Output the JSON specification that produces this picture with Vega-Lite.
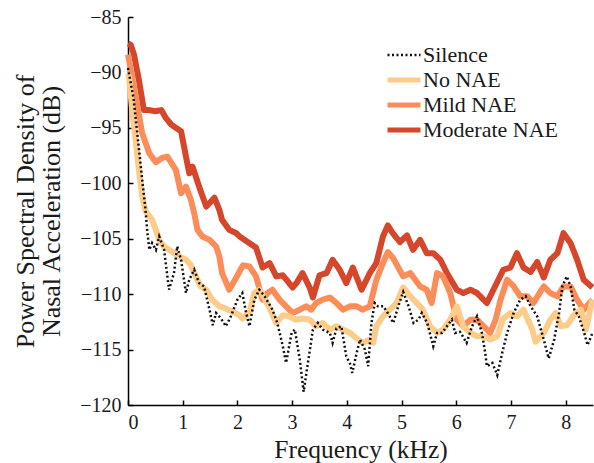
{
  "$schema": "https://vega.github.io/schema/vega-lite/v6.json",
  "width": 465,
  "height": 388,
  "autosize": {"type": "none"},
  "padding": {"left": 128, "top": 17, "right": 1, "bottom": 58},
  "background": "white",
  "config": {
    "font": "Liberation Serif",
    "style": {"guide-label": {"font": "Liberation Serif"}, "guide-title": {"font": "Liberation Serif"}},
    "view": {"stroke": null},
    "axis": {
      "domainColor": "#000000", "domainWidth": 1.5,
      "tickColor": "#000000", "tickWidth": 1.5, "tickSize": -5,
      "labelFont": "Liberation Serif", "labelFontSize": 20, "labelColor": "#1a1a1a",
      "titleFont": "Liberation Serif", "titleFontWeight": "normal", "titleColor": "#1a1a1a",
      "grid": false
    },
    "legend": {
      "orient": "none", "legendX": 265, "legendY": 27,
      "symbolType": "stroke", "symbolSize": 1089, "symbolStrokeWidth": 5,
      "labelFont": "Liberation Serif", "labelFontSize": 22, "labelColor": "#1a1a1a",
      "labelOffset": 8, "rowPadding": 3
    }
  },
  "data": {"values": [
    {"s":"Moderate NAE","f":0,"v":-87.4},{"s":"Moderate NAE","f":0.05,"v":-87.5},{"s":"Moderate NAE","f":0.11,"v":-88.4},{"s":"Moderate NAE","f":0.2,"v":-90.7},{"s":"Moderate NAE","f":0.29,"v":-93.4},{"s":"Moderate NAE","f":0.39,"v":-93.4},{"s":"Moderate NAE","f":0.5,"v":-93.5},{"s":"Moderate NAE","f":0.61,"v":-93.4},{"s":"Moderate NAE","f":0.69,"v":-94.1},{"s":"Moderate NAE","f":0.79,"v":-94.7},{"s":"Moderate NAE","f":0.875,"v":-95.0},{"s":"Moderate NAE","f":0.97,"v":-95.3},{"s":"Moderate NAE","f":1.06,"v":-97.6},{"s":"Moderate NAE","f":1.12,"v":-99.1},{"s":"Moderate NAE","f":1.18,"v":-98.5},{"s":"Moderate NAE","f":1.3,"v":-100.3},{"s":"Moderate NAE","f":1.43,"v":-102.1},{"s":"Moderate NAE","f":1.58,"v":-101.3},{"s":"Moderate NAE","f":1.67,"v":-102.4},{"s":"Moderate NAE","f":1.72,"v":-103.3},{"s":"Moderate NAE","f":1.85,"v":-104.2},{"s":"Moderate NAE","f":1.98,"v":-104.5},{"s":"Moderate NAE","f":2.04,"v":-104.8},{"s":"Moderate NAE","f":2.22,"v":-105.4},{"s":"Moderate NAE","f":2.34,"v":-105.8},{"s":"Moderate NAE","f":2.46,"v":-107.6},{"s":"Moderate NAE","f":2.59,"v":-107.2},{"s":"Moderate NAE","f":2.71,"v":-108.4},{"s":"Moderate NAE","f":2.83,"v":-108.3},{"s":"Moderate NAE","f":3.01,"v":-109.4},{"s":"Moderate NAE","f":3.08,"v":-109.0},{"s":"Moderate NAE","f":3.19,"v":-108.1},{"s":"Moderate NAE","f":3.32,"v":-109.4},{"s":"Moderate NAE","f":3.38,"v":-110.3},{"s":"Moderate NAE","f":3.5,"v":-108.3},{"s":"Moderate NAE","f":3.63,"v":-108.1},{"s":"Moderate NAE","f":3.74,"v":-106.9},{"s":"Moderate NAE","f":3.87,"v":-107.8},{"s":"Moderate NAE","f":3.99,"v":-109.0},{"s":"Moderate NAE","f":4.11,"v":-107.6},{"s":"Moderate NAE","f":4.27,"v":-109.6},{"s":"Moderate NAE","f":4.42,"v":-108.1},{"s":"Moderate NAE","f":4.54,"v":-107.2},{"s":"Moderate NAE","f":4.66,"v":-104.8},{"s":"Moderate NAE","f":4.75,"v":-103.8},{"s":"Moderate NAE","f":4.84,"v":-104.5},{"s":"Moderate NAE","f":4.97,"v":-105.3},{"s":"Moderate NAE","f":5.1,"v":-104.7},{"s":"Moderate NAE","f":5.21,"v":-106.0},{"s":"Moderate NAE","f":5.34,"v":-105.1},{"s":"Moderate NAE","f":5.46,"v":-106.3},{"s":"Moderate NAE","f":5.58,"v":-106.3},{"s":"Moderate NAE","f":5.71,"v":-106.9},{"s":"Moderate NAE","f":5.83,"v":-108.1},{"s":"Moderate NAE","f":6.01,"v":-109.6},{"s":"Moderate NAE","f":6.13,"v":-109.9},{"s":"Moderate NAE","f":6.26,"v":-109.6},{"s":"Moderate NAE","f":6.38,"v":-109.9},{"s":"Moderate NAE","f":6.56,"v":-110.8},{"s":"Moderate NAE","f":6.68,"v":-109.6},{"s":"Moderate NAE","f":6.86,"v":-107.8},{"s":"Moderate NAE","f":6.99,"v":-107.6},{"s":"Moderate NAE","f":7.11,"v":-106.3},{"s":"Moderate NAE","f":7.23,"v":-107.6},{"s":"Moderate NAE","f":7.36,"v":-108.0},{"s":"Moderate NAE","f":7.48,"v":-107.1},{"s":"Moderate NAE","f":7.6,"v":-108.5},{"s":"Moderate NAE","f":7.72,"v":-106.9},{"s":"Moderate NAE","f":7.85,"v":-106.3},{"s":"Moderate NAE","f":7.96,"v":-104.5},{"s":"Moderate NAE","f":8.09,"v":-105.4},{"s":"Moderate NAE","f":8.21,"v":-106.9},{"s":"Moderate NAE","f":8.33,"v":-108.7},{"s":"Moderate NAE","f":8.49,"v":-109.4},

    {"s":"Mild NAE","f":0,"v":-88.4},{"s":"Mild NAE","f":0.02,"v":-88.9},{"s":"Mild NAE","f":0.14,"v":-92.2},{"s":"Mild NAE","f":0.26,"v":-95.5},{"s":"Mild NAE","f":0.39,"v":-97.3},{"s":"Mild NAE","f":0.51,"v":-98.1},{"s":"Mild NAE","f":0.63,"v":-97.7},{"s":"Mild NAE","f":0.72,"v":-97.6},{"s":"Mild NAE","f":0.875,"v":-98.8},{"s":"Mild NAE","f":0.97,"v":-100.9},{"s":"Mild NAE","f":1.06,"v":-100.3},{"s":"Mild NAE","f":1.15,"v":-101.5},{"s":"Mild NAE","f":1.21,"v":-102.7},{"s":"Mild NAE","f":1.27,"v":-104.2},{"s":"Mild NAE","f":1.36,"v":-104.8},{"s":"Mild NAE","f":1.49,"v":-105.1},{"s":"Mild NAE","f":1.61,"v":-105.7},{"s":"Mild NAE","f":1.67,"v":-106.6},{"s":"Mild NAE","f":1.72,"v":-108.1},{"s":"Mild NAE","f":1.85,"v":-109.6},{"s":"Mild NAE","f":1.98,"v":-108.5},{"s":"Mild NAE","f":2.1,"v":-107.4},{"s":"Mild NAE","f":2.22,"v":-107.5},{"s":"Mild NAE","f":2.34,"v":-108.4},{"s":"Mild NAE","f":2.46,"v":-110.5},{"s":"Mild NAE","f":2.55,"v":-109.9},{"s":"Mild NAE","f":2.64,"v":-109.6},{"s":"Mild NAE","f":2.77,"v":-110.5},{"s":"Mild NAE","f":2.89,"v":-111.1},{"s":"Mild NAE","f":3.01,"v":-111.7},{"s":"Mild NAE","f":3.14,"v":-111.4},{"s":"Mild NAE","f":3.26,"v":-111.1},{"s":"Mild NAE","f":3.35,"v":-111.4},{"s":"Mild NAE","f":3.44,"v":-110.8},{"s":"Mild NAE","f":3.56,"v":-110.5},{"s":"Mild NAE","f":3.69,"v":-110.3},{"s":"Mild NAE","f":3.81,"v":-110.8},{"s":"Mild NAE","f":3.93,"v":-111.4},{"s":"Mild NAE","f":4.06,"v":-111.1},{"s":"Mild NAE","f":4.18,"v":-111.1},{"s":"Mild NAE","f":4.29,"v":-111.4},{"s":"Mild NAE","f":4.42,"v":-111.1},{"s":"Mild NAE","f":4.54,"v":-108.7},{"s":"Mild NAE","f":4.66,"v":-107.2},{"s":"Mild NAE","f":4.75,"v":-106.2},{"s":"Mild NAE","f":4.84,"v":-106.7},{"s":"Mild NAE","f":5.03,"v":-108.4},{"s":"Mild NAE","f":5.16,"v":-108.1},{"s":"Mild NAE","f":5.34,"v":-109.3},{"s":"Mild NAE","f":5.46,"v":-109.6},{"s":"Mild NAE","f":5.55,"v":-110.8},{"s":"Mild NAE","f":5.65,"v":-108.1},{"s":"Mild NAE","f":5.76,"v":-108.4},{"s":"Mild NAE","f":5.89,"v":-109.9},{"s":"Mild NAE","f":6.01,"v":-112.3},{"s":"Mild NAE","f":6.13,"v":-112.9},{"s":"Mild NAE","f":6.26,"v":-112.3},{"s":"Mild NAE","f":6.38,"v":-112.3},{"s":"Mild NAE","f":6.5,"v":-112.9},{"s":"Mild NAE","f":6.62,"v":-113.5},{"s":"Mild NAE","f":6.72,"v":-112.3},{"s":"Mild NAE","f":6.81,"v":-110.5},{"s":"Mild NAE","f":6.93,"v":-108.7},{"s":"Mild NAE","f":7.05,"v":-109.3},{"s":"Mild NAE","f":7.17,"v":-110.2},{"s":"Mild NAE","f":7.3,"v":-110.2},{"s":"Mild NAE","f":7.41,"v":-110.8},{"s":"Mild NAE","f":7.6,"v":-109.3},{"s":"Mild NAE","f":7.72,"v":-109.9},{"s":"Mild NAE","f":7.85,"v":-110.2},{"s":"Mild NAE","f":7.96,"v":-109.3},{"s":"Mild NAE","f":8.09,"v":-109.3},{"s":"Mild NAE","f":8.21,"v":-110.5},{"s":"Mild NAE","f":8.33,"v":-111.4},{"s":"Mild NAE","f":8.49,"v":-110.5},

    {"s":"No NAE","f":0,"v":-90.1},{"s":"No NAE","f":0.02,"v":-90.4},{"s":"No NAE","f":0.07,"v":-93.1},{"s":"No NAE","f":0.14,"v":-96.1},{"s":"No NAE","f":0.2,"v":-98.8},{"s":"No NAE","f":0.26,"v":-101.2},{"s":"No NAE","f":0.32,"v":-102.5},{"s":"No NAE","f":0.44,"v":-103.3},{"s":"No NAE","f":0.51,"v":-104.2},{"s":"No NAE","f":0.57,"v":-105.1},{"s":"No NAE","f":0.66,"v":-105.7},{"s":"No NAE","f":0.75,"v":-106.0},{"s":"No NAE","f":0.84,"v":-106.3},{"s":"No NAE","f":0.94,"v":-106.6},{"s":"No NAE","f":1.06,"v":-106.9},{"s":"No NAE","f":1.15,"v":-107.4},{"s":"No NAE","f":1.24,"v":-108.4},{"s":"No NAE","f":1.33,"v":-109.3},{"s":"No NAE","f":1.43,"v":-109.6},{"s":"No NAE","f":1.54,"v":-110.5},{"s":"No NAE","f":1.67,"v":-111.1},{"s":"No NAE","f":1.79,"v":-111.3},{"s":"No NAE","f":1.91,"v":-111.6},{"s":"No NAE","f":2.04,"v":-111.9},{"s":"No NAE","f":2.09,"v":-112.2},{"s":"No NAE","f":2.22,"v":-111.7},{"s":"No NAE","f":2.31,"v":-109.9},{"s":"No NAE","f":2.4,"v":-109.6},{"s":"No NAE","f":2.51,"v":-110.5},{"s":"No NAE","f":2.62,"v":-111.6},{"s":"No NAE","f":2.71,"v":-112.6},{"s":"No NAE","f":2.83,"v":-111.9},{"s":"No NAE","f":2.95,"v":-112.0},{"s":"No NAE","f":3.06,"v":-112.3},{"s":"No NAE","f":3.19,"v":-112.2},{"s":"No NAE","f":3.32,"v":-112.3},{"s":"No NAE","f":3.44,"v":-112.9},{"s":"No NAE","f":3.56,"v":-112.6},{"s":"No NAE","f":3.69,"v":-113.2},{"s":"No NAE","f":3.81,"v":-112.9},{"s":"No NAE","f":3.93,"v":-113.2},{"s":"No NAE","f":4.06,"v":-113.5},{"s":"No NAE","f":4.18,"v":-114.0},{"s":"No NAE","f":4.29,"v":-114.4},{"s":"No NAE","f":4.42,"v":-114.1},{"s":"No NAE","f":4.48,"v":-114.4},{"s":"No NAE","f":4.54,"v":-112.9},{"s":"No NAE","f":4.66,"v":-112.0},{"s":"No NAE","f":4.79,"v":-111.4},{"s":"No NAE","f":4.91,"v":-110.8},{"s":"No NAE","f":5.03,"v":-109.4},{"s":"No NAE","f":5.16,"v":-110.2},{"s":"No NAE","f":5.28,"v":-110.8},{"s":"No NAE","f":5.39,"v":-111.4},{"s":"No NAE","f":5.52,"v":-112.9},{"s":"No NAE","f":5.65,"v":-113.5},{"s":"No NAE","f":5.76,"v":-113.2},{"s":"No NAE","f":5.89,"v":-112.3},{"s":"No NAE","f":6.01,"v":-111.1},{"s":"No NAE","f":6.13,"v":-112.9},{"s":"No NAE","f":6.26,"v":-113.5},{"s":"No NAE","f":6.38,"v":-113.8},{"s":"No NAE","f":6.5,"v":-113.8},{"s":"No NAE","f":6.62,"v":-114.1},{"s":"No NAE","f":6.75,"v":-113.8},{"s":"No NAE","f":6.86,"v":-112.2},{"s":"No NAE","f":6.99,"v":-111.7},{"s":"No NAE","f":7.11,"v":-112.0},{"s":"No NAE","f":7.23,"v":-111.4},{"s":"No NAE","f":7.39,"v":-113.2},{"s":"No NAE","f":7.45,"v":-114.3},{"s":"No NAE","f":7.6,"v":-113.5},{"s":"No NAE","f":7.72,"v":-112.3},{"s":"No NAE","f":7.82,"v":-111.7},{"s":"No NAE","f":7.91,"v":-112.9},{"s":"No NAE","f":8.03,"v":-112.8},{"s":"No NAE","f":8.15,"v":-111.9},{"s":"No NAE","f":8.28,"v":-111.4},{"s":"No NAE","f":8.37,"v":-113.2},{"s":"No NAE","f":8.49,"v":-110.5},

    {"s":"Silence","f":0,"v":-89.6},{"s":"Silence","f":0.1,"v":-92.3},{"s":"Silence","f":0.17,"v":-95.5},{"s":"Silence","f":0.26,"v":-99.7},{"s":"Silence","f":0.32,"v":-102.4},{"s":"Silence","f":0.35,"v":-104.2},{"s":"Silence","f":0.39,"v":-106.0},{"s":"Silence","f":0.44,"v":-105.4},{"s":"Silence","f":0.51,"v":-106.0},{"s":"Silence","f":0.57,"v":-104.8},{"s":"Silence","f":0.66,"v":-106.0},{"s":"Silence","f":0.75,"v":-109.6},{"s":"Silence","f":0.84,"v":-108.1},{"s":"Silence","f":0.9,"v":-105.7},{"s":"Silence","f":0.97,"v":-106.9},{"s":"Silence","f":1.06,"v":-109.9},{"s":"Silence","f":1.12,"v":-108.7},{"s":"Silence","f":1.21,"v":-107.8},{"s":"Silence","f":1.3,"v":-109.0},{"s":"Silence","f":1.39,"v":-109.3},{"s":"Silence","f":1.49,"v":-111.4},{"s":"Silence","f":1.55,"v":-112.8},{"s":"Silence","f":1.61,"v":-111.7},{"s":"Silence","f":1.7,"v":-112.2},{"s":"Silence","f":1.79,"v":-112.9},{"s":"Silence","f":1.88,"v":-112.0},{"s":"Silence","f":2.0,"v":-110.5},{"s":"Silence","f":2.09,"v":-109.9},{"s":"Silence","f":2.16,"v":-111.7},{"s":"Silence","f":2.22,"v":-112.9},{"s":"Silence","f":2.31,"v":-110.5},{"s":"Silence","f":2.4,"v":-109.6},{"s":"Silence","f":2.5,"v":-110.2},{"s":"Silence","f":2.64,"v":-111.4},{"s":"Silence","f":2.73,"v":-112.6},{"s":"Silence","f":2.83,"v":-114.7},{"s":"Silence","f":2.89,"v":-116.2},{"s":"Silence","f":2.99,"v":-113.5},{"s":"Silence","f":3.05,"v":-113.2},{"s":"Silence","f":3.14,"v":-115.9},{"s":"Silence","f":3.21,"v":-118.8},{"s":"Silence","f":3.28,"v":-116.5},{"s":"Silence","f":3.38,"v":-113.2},{"s":"Silence","f":3.47,"v":-112.6},{"s":"Silence","f":3.56,"v":-113.2},{"s":"Silence","f":3.69,"v":-113.5},{"s":"Silence","f":3.74,"v":-114.4},{"s":"Silence","f":3.81,"v":-113.1},{"s":"Silence","f":3.9,"v":-112.9},{"s":"Silence","f":3.99,"v":-115.6},{"s":"Silence","f":4.06,"v":-116.3},{"s":"Silence","f":4.1,"v":-117.1},{"s":"Silence","f":4.18,"v":-115.3},{"s":"Silence","f":4.24,"v":-114.1},{"s":"Silence","f":4.33,"v":-115.0},{"s":"Silence","f":4.39,"v":-116.5},{"s":"Silence","f":4.45,"v":-112.6},{"s":"Silence","f":4.51,"v":-110.8},{"s":"Silence","f":4.57,"v":-111.1},{"s":"Silence","f":4.67,"v":-111.1},{"s":"Silence","f":4.76,"v":-111.8},{"s":"Silence","f":4.85,"v":-112.6},{"s":"Silence","f":4.94,"v":-111.1},{"s":"Silence","f":5.03,"v":-109.8},{"s":"Silence","f":5.13,"v":-111.1},{"s":"Silence","f":5.22,"v":-112.6},{"s":"Silence","f":5.31,"v":-112.3},{"s":"Silence","f":5.37,"v":-111.7},{"s":"Silence","f":5.47,"v":-112.6},{"s":"Silence","f":5.58,"v":-114.7},{"s":"Silence","f":5.65,"v":-113.5},{"s":"Silence","f":5.74,"v":-113.5},{"s":"Silence","f":5.83,"v":-112.9},{"s":"Silence","f":5.92,"v":-112.3},{"s":"Silence","f":5.98,"v":-113.5},{"s":"Silence","f":6.07,"v":-113.4},{"s":"Silence","f":6.19,"v":-114.4},{"s":"Silence","f":6.29,"v":-112.9},{"s":"Silence","f":6.38,"v":-112.0},{"s":"Silence","f":6.47,"v":-113.5},{"s":"Silence","f":6.53,"v":-115.3},{"s":"Silence","f":6.56,"v":-116.5},{"s":"Silence","f":6.66,"v":-116.2},{"s":"Silence","f":6.75,"v":-117.3},{"s":"Silence","f":6.84,"v":-115.3},{"s":"Silence","f":6.93,"v":-113.5},{"s":"Silence","f":7.05,"v":-111.7},{"s":"Silence","f":7.17,"v":-110.5},{"s":"Silence","f":7.27,"v":-110.2},{"s":"Silence","f":7.36,"v":-111.1},{"s":"Silence","f":7.48,"v":-112.0},{"s":"Silence","f":7.6,"v":-114.1},{"s":"Silence","f":7.69,"v":-115.8},{"s":"Silence","f":7.79,"v":-114.1},{"s":"Silence","f":7.88,"v":-111.7},{"s":"Silence","f":7.94,"v":-109.3},{"s":"Silence","f":8.02,"v":-108.4},{"s":"Silence","f":8.09,"v":-109.3},{"s":"Silence","f":8.16,"v":-111.4},{"s":"Silence","f":8.24,"v":-112.0},{"s":"Silence","f":8.34,"v":-113.5},{"s":"Silence","f":8.4,"v":-114.6},{"s":"Silence","f":8.49,"v":-113.5}
  ]},
  "encoding": {
    "x": {
      "field": "f", "type": "quantitative",
      "scale": {"domain": [0, 8.5], "nice": false, "zero": false},
      "axis": {"title": "Frequency (kHz)", "values": [0,1,2,3,4,5,6,7,8], "format": "d", "labelPadding": 12, "titleFontSize": 25.5, "titlePadding": 5}
    },
    "y": {
      "field": "v", "type": "quantitative",
      "scale": {"domain": [-120, -85], "nice": false, "zero": false},
      "axis": {"title": ["Power Spectral Density of", "Nasal Acceleration (dB)"], "values": [-120,-115,-110,-105,-100,-95,-90,-85], "labelPadding": 12, "titleFontSize": 26, "titleLineHeight": 26, "titlePadding": 15}
    },
    "color": {
      "field": "s", "type": "nominal",
      "scale": {"domain": ["Silence", "No NAE", "Mild NAE", "Moderate NAE"], "range": ["#111111", "#fdcc8a", "#fc8d59", "#d5462b"]},
      "legend": {"title": null, "encode": {"symbols": {"update": {"strokeWidth": {"signal": "datum.value === 'Silence' ? 2.5 : 5"}}}}}
    },
    "strokeDash": {
      "field": "s", "type": "nominal",
      "scale": {"domain": ["Silence", "No NAE", "Mild NAE", "Moderate NAE"], "range": [[2, 2.5], [1, 0], [1, 0], [1, 0]]},
      "legend": {"title": null}
    }
  },
  "layer": [
    {
      "transform": [{"filter": "datum.s !== 'Silence'"}],
      "mark": {"type": "line", "strokeWidth": 6, "strokeJoin": "round", "strokeCap": "butt"}
    },
    {
      "transform": [{"filter": "datum.s === 'Silence'"}],
      "mark": {"type": "line", "strokeWidth": 2.5, "strokeCap": "butt"}
    }
  ]
}
